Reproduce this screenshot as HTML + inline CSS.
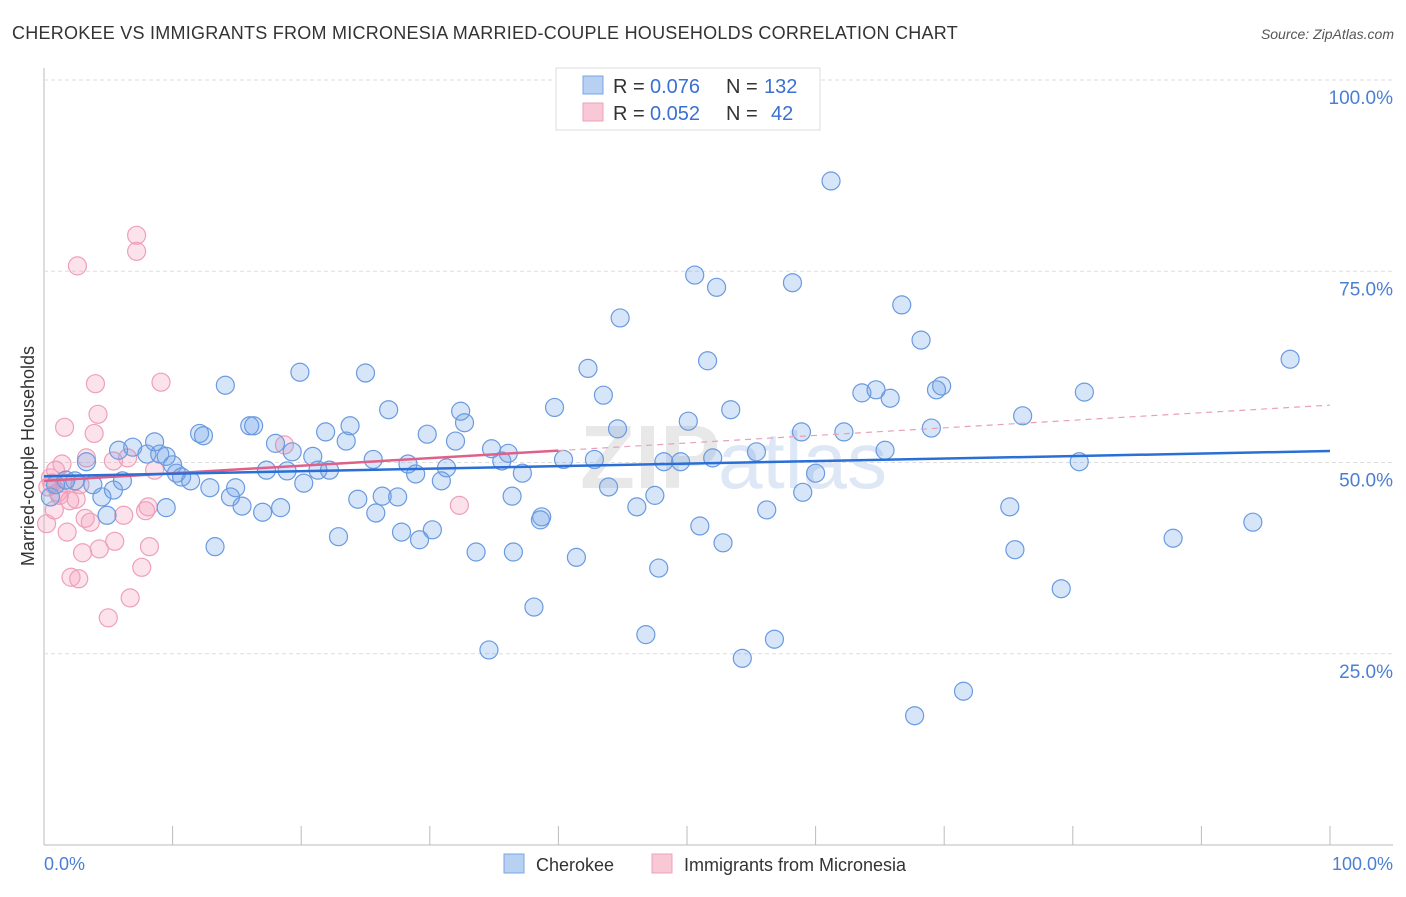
<!DOCTYPE html>
<html><head><meta charset="utf-8"><style>
body{margin:0;background:#fff;font-family:"Liberation Sans",sans-serif}
</style></head><body>
<svg width="1406" height="892" xmlns="http://www.w3.org/2000/svg" font-family="Liberation Sans, sans-serif">
<text x="12" y="39" font-size="18" letter-spacing="0.25" fill="#333">CHEROKEE VS IMMIGRANTS FROM MICRONESIA MARRIED-COUPLE HOUSEHOLDS CORRELATION CHART</text>
<text x="1394" y="39" font-size="14" fill="#555" font-style="italic" text-anchor="end">Source: ZipAtlas.com</text>
<g id="grid"></g>
<text x="720" y="488" font-size="90" font-weight="bold" fill="#e8e8e8" text-anchor="end">ZIP</text>
<text x="718" y="488" font-size="80" fill="#dde7f5">atlas</text>
<g id="pts"></g>
<g id="trend"></g>
<text x="34" y="456" font-size="18" fill="#333" text-anchor="middle" transform="rotate(-90 34 456)">Married-couple Households</text>
<text x="44" y="870" font-size="18" fill="#4a7fd4">0.0%</text>
<text x="1393" y="870" font-size="18" fill="#4a7fd4" text-anchor="end">100.0%</text>
<g>
<rect x="556" y="68" width="264" height="62" fill="#fff" stroke="#ddd"/>
<rect x="583" y="76" width="20" height="18" fill="#b8d0f2" stroke="#7aa6e6"/>
<rect x="583" y="103" width="20" height="18" fill="#f8c8d6" stroke="#eea0b8"/>
<text y="93" font-size="20" fill="#333"><tspan x="613">R =</tspan><tspan x="650" fill="#3a70d0">0.076</tspan><tspan x="726">N =</tspan><tspan x="764" fill="#3a70d0">132</tspan></text>
<text y="120" font-size="20" fill="#333"><tspan x="613">R =</tspan><tspan x="650" fill="#3a70d0">0.052</tspan><tspan x="726">N =</tspan><tspan x="771" fill="#3a70d0">42</tspan></text>
</g>
<g>
<rect x="504" y="854" width="20" height="19" fill="#b8d0f2" stroke="#7aa6e6"/>
<text x="536" y="871" font-size="18" fill="#333">Cherokee</text>
<rect x="652" y="854" width="20" height="19" fill="#f8c8d6" stroke="#eea0b8"/>
<text x="684" y="871" font-size="18" fill="#333">Immigrants from Micronesia</text>
</g>
</svg>
<script>
const yTicks=[25,50,75,100];
const yTickLabels=["25.0%","50.0%","75.0%","100.0%"];
const xTicks=[0,10,20,30,40,50,60,70,80,90,100];
const blueX=[61.2,50.6,52.3,58.2,44.8,66.7,68.2,51.6,42.3,96.9,19.9,25.0,14.1,43.5,63.6,64.7,65.8,69.4,69.8,80.9,26.8,39.7,53.4,32.4,32.7,50.1,76.1,16.0,16.3,23.8,44.6,58.9,62.2,69.0,12.1,12.4,21.9,29.8,23.5,32.0,18.0,8.6,5.8,6.9,8.0,9.0,9.5,19.3,34.8,36.1,65.4,55.4,3.3,10.0,10.3,20.9,25.6,28.3,31.3,35.6,40.4,42.8,48.2,49.5,52.0,80.5,10.7,11.4,17.3,18.9,21.3,22.2,28.9,30.9,37.2,60.0,0.9,1.7,2.4,3.8,6.1,12.9,5.4,14.9,14.5,20.2,43.9,36.4,47.5,59.0,4.5,24.4,26.3,27.5,0.5,15.4,17.0,18.4,25.8,4.9,9.5,46.1,56.2,75.1,38.7,38.6,30.2,27.8,29.2,22.9,51.0,52.8,13.3,33.6,36.5,41.4,47.8,75.5,87.8,94.0,79.1,38.1,46.8,56.8,34.6,54.3,71.5,67.7];
const blueY=[86.8,74.5,72.9,73.5,68.9,70.6,66.0,63.3,62.3,63.5,61.8,61.7,60.1,58.8,59.1,59.5,58.4,59.5,60.0,59.2,56.9,57.2,56.9,56.7,55.2,55.4,56.1,54.8,54.8,54.8,54.4,54.0,54.0,54.5,53.8,53.5,54.0,53.7,52.8,52.8,52.5,52.7,51.6,52.0,51.1,51.1,50.8,51.4,51.8,51.2,51.6,51.4,50.1,49.7,48.6,50.8,50.4,49.8,49.3,50.2,50.4,50.4,50.1,50.1,50.6,50.1,48.1,47.6,49.0,48.9,49.0,49.0,48.5,47.6,48.6,48.6,47.1,47.7,47.6,47.1,47.6,46.7,46.4,46.7,45.5,47.3,46.8,45.6,45.7,46.1,45.5,45.2,45.6,45.5,45.5,44.3,43.5,44.1,43.4,43.1,44.1,44.2,43.8,44.2,42.9,42.5,41.2,40.9,39.9,40.3,41.7,39.5,39.0,38.3,38.3,37.6,36.2,38.6,40.1,42.2,33.5,31.1,27.5,26.9,25.5,24.4,20.1,16.9];
const pinkX=[7.2,7.2,2.6,4.0,9.1,4.2,1.6,3.9,3.3,1.4,0.9,6.5,5.4,18.7,8.6,0.5,1.6,1.1,2.8,2.5,2.0,0.8,0.2,1.8,3.6,3.2,6.2,8.1,7.9,32.3,4.3,3.0,5.5,8.2,2.1,2.7,7.6,6.7,5.0,0.3,0.6,1.2];
const pinkY=[79.7,77.6,75.7,60.3,60.5,56.3,54.6,53.8,50.6,49.8,49.0,50.6,50.2,52.3,49.0,48.0,47.3,46.1,47.1,45.2,45.0,43.8,42.0,40.9,42.2,42.7,43.1,44.2,43.7,44.4,38.7,38.2,39.7,39.0,35.0,34.8,36.3,32.3,29.7,46.8,47.3,45.7];
const blueTrend=[48.2,51.5];
const pinkTrend=[47.6,57.5];
const pinkSolidEnd=40;
const X=v=>44+v*12.86, Y=v=>845-v*7.65;
const ns="http://www.w3.org/2000/svg";
function mk(t,a,p){const e=document.createElementNS(ns,t);for(const k in a)e.setAttribute(k,a[k]);p.appendChild(e);return e;}
const grid=document.getElementById('grid');
let ax=mk('line',{x1:44,y1:68,x2:44,y2:845,stroke:'#bbb'},grid);


let bx=mk('line',{x1:44,y1:845,x2:1393,y2:845,stroke:'#bbb'},grid);


yTicks.forEach((t,i)=>{
 const l=mk('line',{x1:44,y1:Y(t),x2:1393,y2:Y(t),stroke:'#ddd','stroke-dasharray':'4,3'},grid);
 
 
 const tx=mk('text',{x:1393,y:Y(t)+24,'font-size':19,fill:'#4a7fd4','text-anchor':'end'},grid);
 tx.textContent=yTickLabels[i];
 
 
});
xTicks.forEach(t=>{
 const l=mk('line',{x1:X(t),y1:826,x2:X(t),y2:845,stroke:'#bbb'},grid);
 
 
});
const pts=document.getElementById('pts');
pinkX.forEach((v,i)=>{
 const c=mk('circle',{cx:X(v),cy:Y(pinkY[i]),r:9,fill:'rgba(244,160,188,0.3)',stroke:'#eea0b8','stroke-width':1.2},pts);
 
 
});
blueX.forEach((v,i)=>{
 const c=mk('circle',{cx:X(v),cy:Y(blueY[i]),r:9,fill:'rgba(110,160,230,0.28)',stroke:'#6a9ae0','stroke-width':1.2},pts);
 
 
});
const tr=document.getElementById('trend');
const pm=v=>pinkTrend[0]+(pinkTrend[1]-pinkTrend[0])*v/100;
let l1=mk('line',{x1:X(pinkSolidEnd),y1:Y(pm(pinkSolidEnd)),x2:X(100),y2:Y(pinkTrend[1]),stroke:'#e8a0b8','stroke-width':1.2,'stroke-dasharray':'6,5'},tr);


let l2=mk('line',{x1:X(0),y1:Y(pinkTrend[0]),x2:X(pinkSolidEnd),y2:Y(pm(pinkSolidEnd)),stroke:'#e0608a','stroke-width':2.5},tr);


let l3=mk('line',{x1:X(0),y1:Y(blueTrend[0]),x2:X(100),y2:Y(blueTrend[1]),stroke:'#2a6fd6','stroke-width':2.5},tr);


</script>
</body></html>
